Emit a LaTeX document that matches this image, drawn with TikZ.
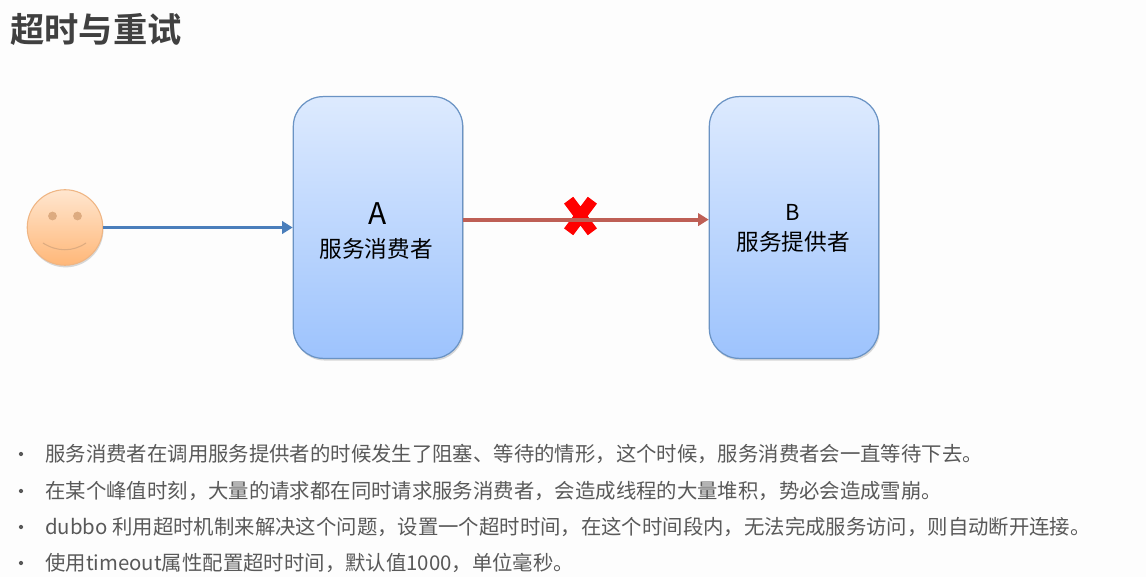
\documentclass[tikz,border=0pt]{standalone}
\usepackage{fontspec}
\setmainfont{Noto Sans CJK SC}[BoldFont={Noto Sans CJK SC Bold}]
\usetikzlibrary{arrows.meta,shadows,shapes.misc}
\definecolor{boxtop}{HTML}{DDEAFE}
\definecolor{boxbottom}{HTML}{9DC3FD}
\definecolor{boxline}{HTML}{6A93C4}
\definecolor{facetop}{HTML}{FFE6CF}
\definecolor{facebottom}{HTML}{FFB778}
\definecolor{faceline}{HTML}{EFB583}
\definecolor{facemark}{HTML}{DDAB80}
\definecolor{bluearrow}{HTML}{4A7EBB}
\definecolor{redarrow}{HTML}{BE5F55}
\definecolor{bodytext}{HTML}{595959}
\definecolor{titletext}{HTML}{404040}
\definecolor{paper}{HTML}{FDFDFD}
\tikzset{
	service/.style={draw=boxline, line width=0.7pt, rounded corners=17pt, minimum width=96.4pt, minimum height=149pt, top color=boxtop, bottom color=boxbottom, drop shadow={shadow xshift=0.6pt, shadow yshift=-1.2pt, opacity=0.3}},
	visitor/.style={circle, draw=faceline, line width=0.6pt, minimum size=43pt, top color=facetop, bottom color=facebottom, drop shadow={shadow xshift=0.4pt, shadow yshift=-1.2pt, opacity=0.3}},
	faceeye/.style={circle, fill=facemark, inner sep=0pt, minimum size=5pt},
	flow/.style={line width=2.2pt, -{Triangle[length=6pt,width=7pt]}},
	failmark/.style={cross out, draw=red, line width=6.5pt, inner sep=0pt, minimum width=7pt, minimum height=11.5pt},
	boxlabel/.style={text=black, inner sep=0pt},
	listdot/.style={circle, fill=bodytext, inner sep=0pt, minimum size=2.4pt},
	listtext/.style={anchor=west, text=bodytext, inner sep=0pt, font=\fontsize{11.6pt}{14pt}\selectfont}
}

\begin{document}
\begin{tikzpicture}[x=0.02cm, y=-0.02cm]
	%%%%% START %%%%%
	\fill[paper] (0, 0) rectangle (1146, 577);
	\useasboundingbox (0, 0) rectangle (1146, 577);

	\node[anchor=west, inner sep=0pt, text=titletext, font=\fontsize{19.5pt}{24pt}\selectfont\bfseries] (title) at (10, 29) {超时与重试};

	% the two services
	\node[service] (boxa) at (378, 227.5) {};
	\node[service] (boxb) at (794, 227.5) {};
	\node[boxlabel, font=\fontsize{17pt}{20pt}\selectfont] (namea) at (377.5, 214) {A};
	\node[boxlabel, font=\fontsize{12.9pt}{16pt}\selectfont] (rolea) at (376, 249) {服务消费者};
	\node[boxlabel, font=\fontsize{12.5pt}{14pt}\selectfont] (nameb) at (793, 212) {B};
	\node[boxlabel, font=\fontsize{12.9pt}{16pt}\selectfont] (roleb) at (793, 242) {服务提供者};

	% the smiling visitor
	\node[visitor] (face) at (65, 227.5) {};
	\node[faceeye] (eyeleft) at (52.5, 216) {};
	\node[faceeye] (eyeright) at (77.5, 216) {};
	\draw[facemark, line width=0.6pt] (43, 243) .. controls (57, 252) and (73, 252) .. (86, 243);

	% calls
	\draw[flow, bluearrow] (face) -- (boxa.west);
	\node[failmark] (fail) at (580.5, 216) {};
	\draw[flow, redarrow] ([yshift=4.5pt]boxa.east) -- ([yshift=4.5pt]boxb.west);

	% notes
	\foreach \name/\ypos/\note in {
		one/454/服务消费者在调用服务提供者的时候发生了阻塞、等待的情形，这个时候，服务消费者会一直等待下去。,
		two/491/在某个峰值时刻，大量的请求都在同时请求服务消费者，会造成线程的大量堆积，势必会造成雪崩。,
		three/527/dubbo 利用超时机制来解决这个问题，设置一个超时时间，在这个时间段内，无法完成服务访问，则自动断开连接。,
		four/563/使用timeout属性配置超时时间，默认值1000，单位毫秒。}
	{
		\node[listdot] (dot\name) at (21, \ypos) {};
		\node[listtext] (note\name) at (45, \ypos) {\note};
	}
	%%%%% END %%%%%
\end{tikzpicture}
\end{document}
